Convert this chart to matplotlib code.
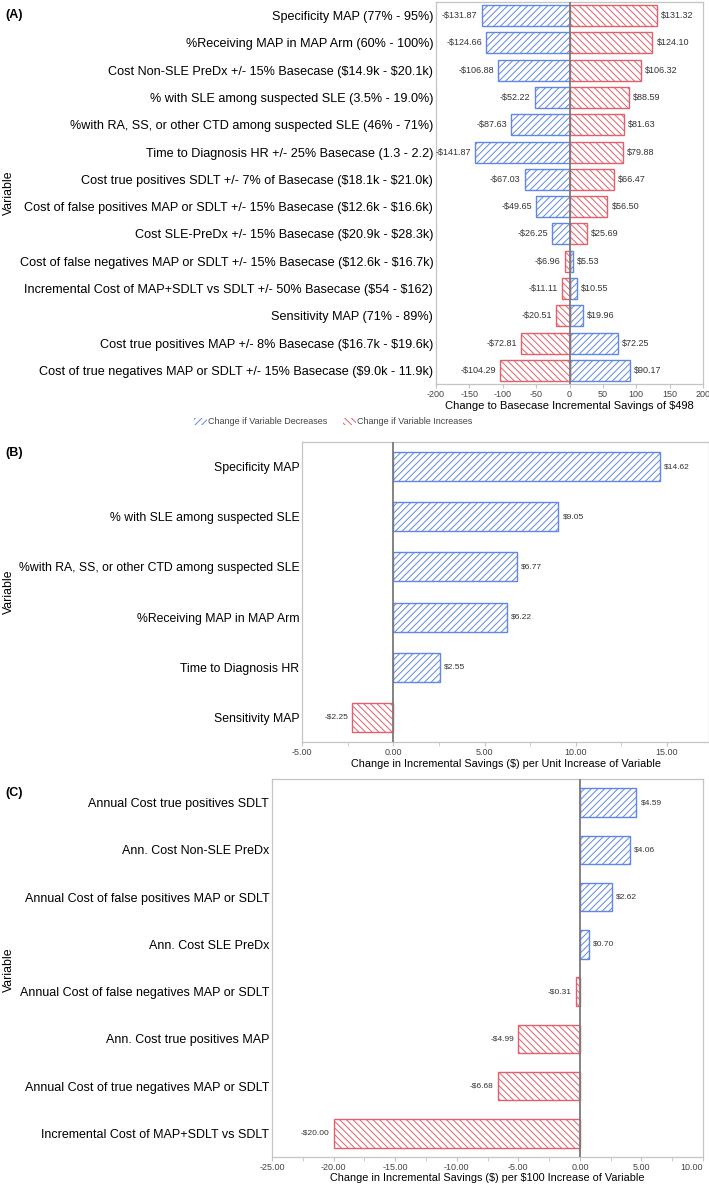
import numpy as np
import matplotlib
matplotlib.use("Agg")
import matplotlib.pyplot as plt
from matplotlib.patches import Patch
from matplotlib.ticker import MultipleLocator

plt.rcParams["font.family"] = ["Liberation Sans", "DejaVu Sans"]
plt.rcParams["hatch.linewidth"] = 0.7

# panel A - tornado
a_labels = [
    "Specificity MAP (77% - 95%)",
    "%Receiving MAP in MAP Arm (60% - 100%)",
    "Cost Non-SLE PreDx +/- 15% Basecase ($14.9k - $20.1k)",
    "% with SLE among suspected SLE (3.5% - 19.0%)",
    "%with RA, SS, or other CTD among suspected SLE (46% - 71%)",
    "Time to Diagnosis HR +/- 25% Basecase (1.3 - 2.2)",
    "Cost true positives SDLT +/- 7% of Basecase ($18.1k - $21.0k)",
    "Cost of false positives MAP or SDLT +/- 15% Basecase ($12.6k - $16.6k)",
    "Cost SLE-PreDx +/- 15% Basecase ($20.9k - $28.3k)",
    "Cost of false negatives MAP or SDLT +/- 15% Basecase ($12.6k - $16.7k)",
    "Incremental Cost of MAP+SDLT vs SDLT +/- 50% Basecase ($54 - $162)",
    "Sensitivity MAP (71% - 89%)",
    "Cost true positives MAP +/- 8% Basecase ($16.7k - $19.6k)",
    "Cost of true negatives MAP or SDLT +/- 15% Basecase ($9.0k - 11.9k)",
]
a_decrease = [-131.87, -124.66, -106.88, -52.22, -87.63, -141.87, -67.03,
              -49.65, -26.25, 5.53, 10.55, 19.96, 72.25, 90.17]
a_increase = [131.32, 124.10, 106.32, 88.59, 81.63, 79.88, 66.47,
              56.50, 25.69, -6.96, -11.11, -20.51, -72.81, -104.29]

# panel B
b_labels = ["Specificity MAP", "% with SLE among suspected SLE",
            "%with RA, SS, or other CTD among suspected SLE",
            "%Receiving MAP in MAP Arm", "Time to Diagnosis HR", "Sensitivity MAP"]
b_values = [14.62, 9.05, 6.77, 6.22, 2.55, -2.25]

# panel C
c_labels = ["Annual Cost true positives SDLT", "Ann. Cost Non-SLE PreDx",
            "Annual Cost of false positives MAP or SDLT", "Ann. Cost SLE PreDx",
            "Annual Cost of false negatives MAP or SDLT", "Ann. Cost true positives MAP",
            "Annual Cost of true negatives MAP or SDLT", "Incremental Cost of MAP+SDLT vs SDLT"]
c_values = [4.59, 4.06, 2.62, 0.70, -0.31, -4.99, -6.68, -20.00]

BLUE = "#5f86e8"
RED = "#e2606b"
SPINE = "#c4c4c4"
small_font = ["Liberation Sans Narrow", "Liberation Sans", "DejaVu Sans"]


def esc(s):
    # keep the dollar signs literal (no mathtext)
    return s.replace("$", r"\$")


def money(v):
    return esc(("-$%.2f" % abs(v)) if v < 0 else ("$%.2f" % v))


def style_axes(ax, lab_size):
    for s in ax.spines.values():
        s.set_color(SPINE)
        s.set_linewidth(0.9)
    ax.tick_params(axis="y", length=0, pad=2, labelsize=lab_size)
    ax.tick_params(axis="x", which="both", colors=SPINE, labelcolor="#444444",
                   labelsize=6.5, length=3, pad=1.5)
    for t in ax.get_xticklabels():
        t.set_family(small_font)
    ax.axvline(0, color="#7a7a7a", lw=1.3, zorder=5)


def add_label(ax, y, v, size):
    ax.annotate(money(v), (v, y), xytext=(-3 if v < 0 else 3, 0), textcoords="offset points",
                ha="right" if v < 0 else "left", va="center", fontsize=size,
                color="#333333", family=small_font)


def hbar(ax, y, v, h, color, hatch):
    ax.barh(y, v, height=h, color="white", edgecolor=color, hatch=hatch, lw=1.0, zorder=3)


fig = plt.figure(figsize=(7.09, 11.84), dpi=100)

# ---- (A)
axA = fig.add_axes([0.615, 0.6757, 0.3766, 0.3226])
ya = np.arange(len(a_labels))
for i in ya:
    hbar(axA, i, a_decrease[i], 0.77, BLUE, "/////")
    hbar(axA, i, a_increase[i], 0.77, RED, "\\\\\\\\\\")
    add_label(axA, i, a_decrease[i], 6.5)
    add_label(axA, i, a_increase[i], 6.5)
axA.set_yticks(ya)
axA.set_yticklabels([esc(s) for s in a_labels])
axA.set_ylim(len(a_labels) - 0.5, -0.5)
axA.set_xlim(-200, 200)
axA.set_xticks(np.arange(-200, 201, 50))
axA.set_xticklabels([str(t) for t in range(-200, 201, 50)])
style_axes(axA, 9.1)
axA.set_xlabel(esc("Change to Basecase Incremental Savings of $498"), fontsize=8.0, labelpad=1.5)
fig.text(0.012, 0.837, "Variable", rotation=90, va="center", ha="center", fontsize=8.8)
fig.text(0.007, 0.987, "(A)", fontsize=9, fontweight="bold", va="center")
handles = [Patch(facecolor="white", edgecolor=BLUE, hatch="/////", lw=0),
           Patch(facecolor="white", edgecolor=RED, hatch="\\\\\\\\\\", lw=0)]
leg = fig.legend(handles, ["Change if Variable Decreases", "Change if Variable Increases"],
                 loc="center", bbox_to_anchor=(0.47, 0.6436), ncol=2, frameon=False,
                 handlelength=1.4, handleheight=0.8, handletextpad=0.1, columnspacing=1.8,
                 prop={"family": small_font, "size": 6.5})
for t in leg.get_texts():
    t.set_color("#444444")

# ---- (B)
axB = fig.add_axes([0.426, 0.3733, 0.574, 0.2534])
yb = np.arange(len(b_labels))
for i in yb:
    v = b_values[i]
    hbar(axB, i, v, 0.58, BLUE if v > 0 else RED, "/////" if v > 0 else "\\\\\\\\\\")
    add_label(axB, i, v, 6.0)
axB.set_yticks(yb)
axB.set_yticklabels(b_labels)
axB.set_ylim(len(b_labels) - 0.5, -0.5)
axB.set_xlim(-5, 17.3)
axB.set_xticks([-5, 0, 5, 10, 15])
axB.set_xticklabels(["%.2f" % t for t in [-5, 0, 5, 10, 15]])
axB.xaxis.set_minor_locator(MultipleLocator(2.5))
style_axes(axB, 8.85)
axB.set_xlabel(esc("Change in Incremental Savings ($) per Unit Increase of Variable"),
               fontsize=7.8, labelpad=1.5)
fig.text(0.012, 0.5, "Variable", rotation=90, va="center", ha="center", fontsize=8.8)
fig.text(0.007, 0.617, "(B)", fontsize=9, fontweight="bold", va="center")

# ---- (C)
axC = fig.add_axes([0.3836, 0.0228, 0.608, 0.3193])
yc = np.arange(len(c_labels))
for i in yc:
    v = c_values[i]
    hbar(axC, i, v, 0.6, BLUE if v > 0 else RED, "/////" if v > 0 else "\\\\\\\\\\")
    add_label(axC, i, v, 6.0)
axC.set_yticks(yc)
axC.set_yticklabels(c_labels)
axC.set_ylim(len(c_labels) - 0.5, -0.5)
axC.set_xlim(-25, 10)
axC.set_xticks(np.arange(-25, 11, 5))
axC.set_xticklabels(["%.2f" % t for t in np.arange(-25, 11, 5)])
axC.xaxis.set_minor_locator(MultipleLocator(2.5))
style_axes(axC, 9)
axC.get_xticklabels()[-1].set_horizontalalignment("right")
axC.set_xlabel(esc("Change in Incremental Savings ($) per $100 Increase of Variable"),
               fontsize=7.8, labelpad=0.5)
fig.text(0.012, 0.181, "Variable", rotation=90, va="center", ha="center", fontsize=8.8)
fig.text(0.007, 0.330, "(C)", fontsize=9, fontweight="bold", va="center")

fig.savefig("out.png", dpi=100)
